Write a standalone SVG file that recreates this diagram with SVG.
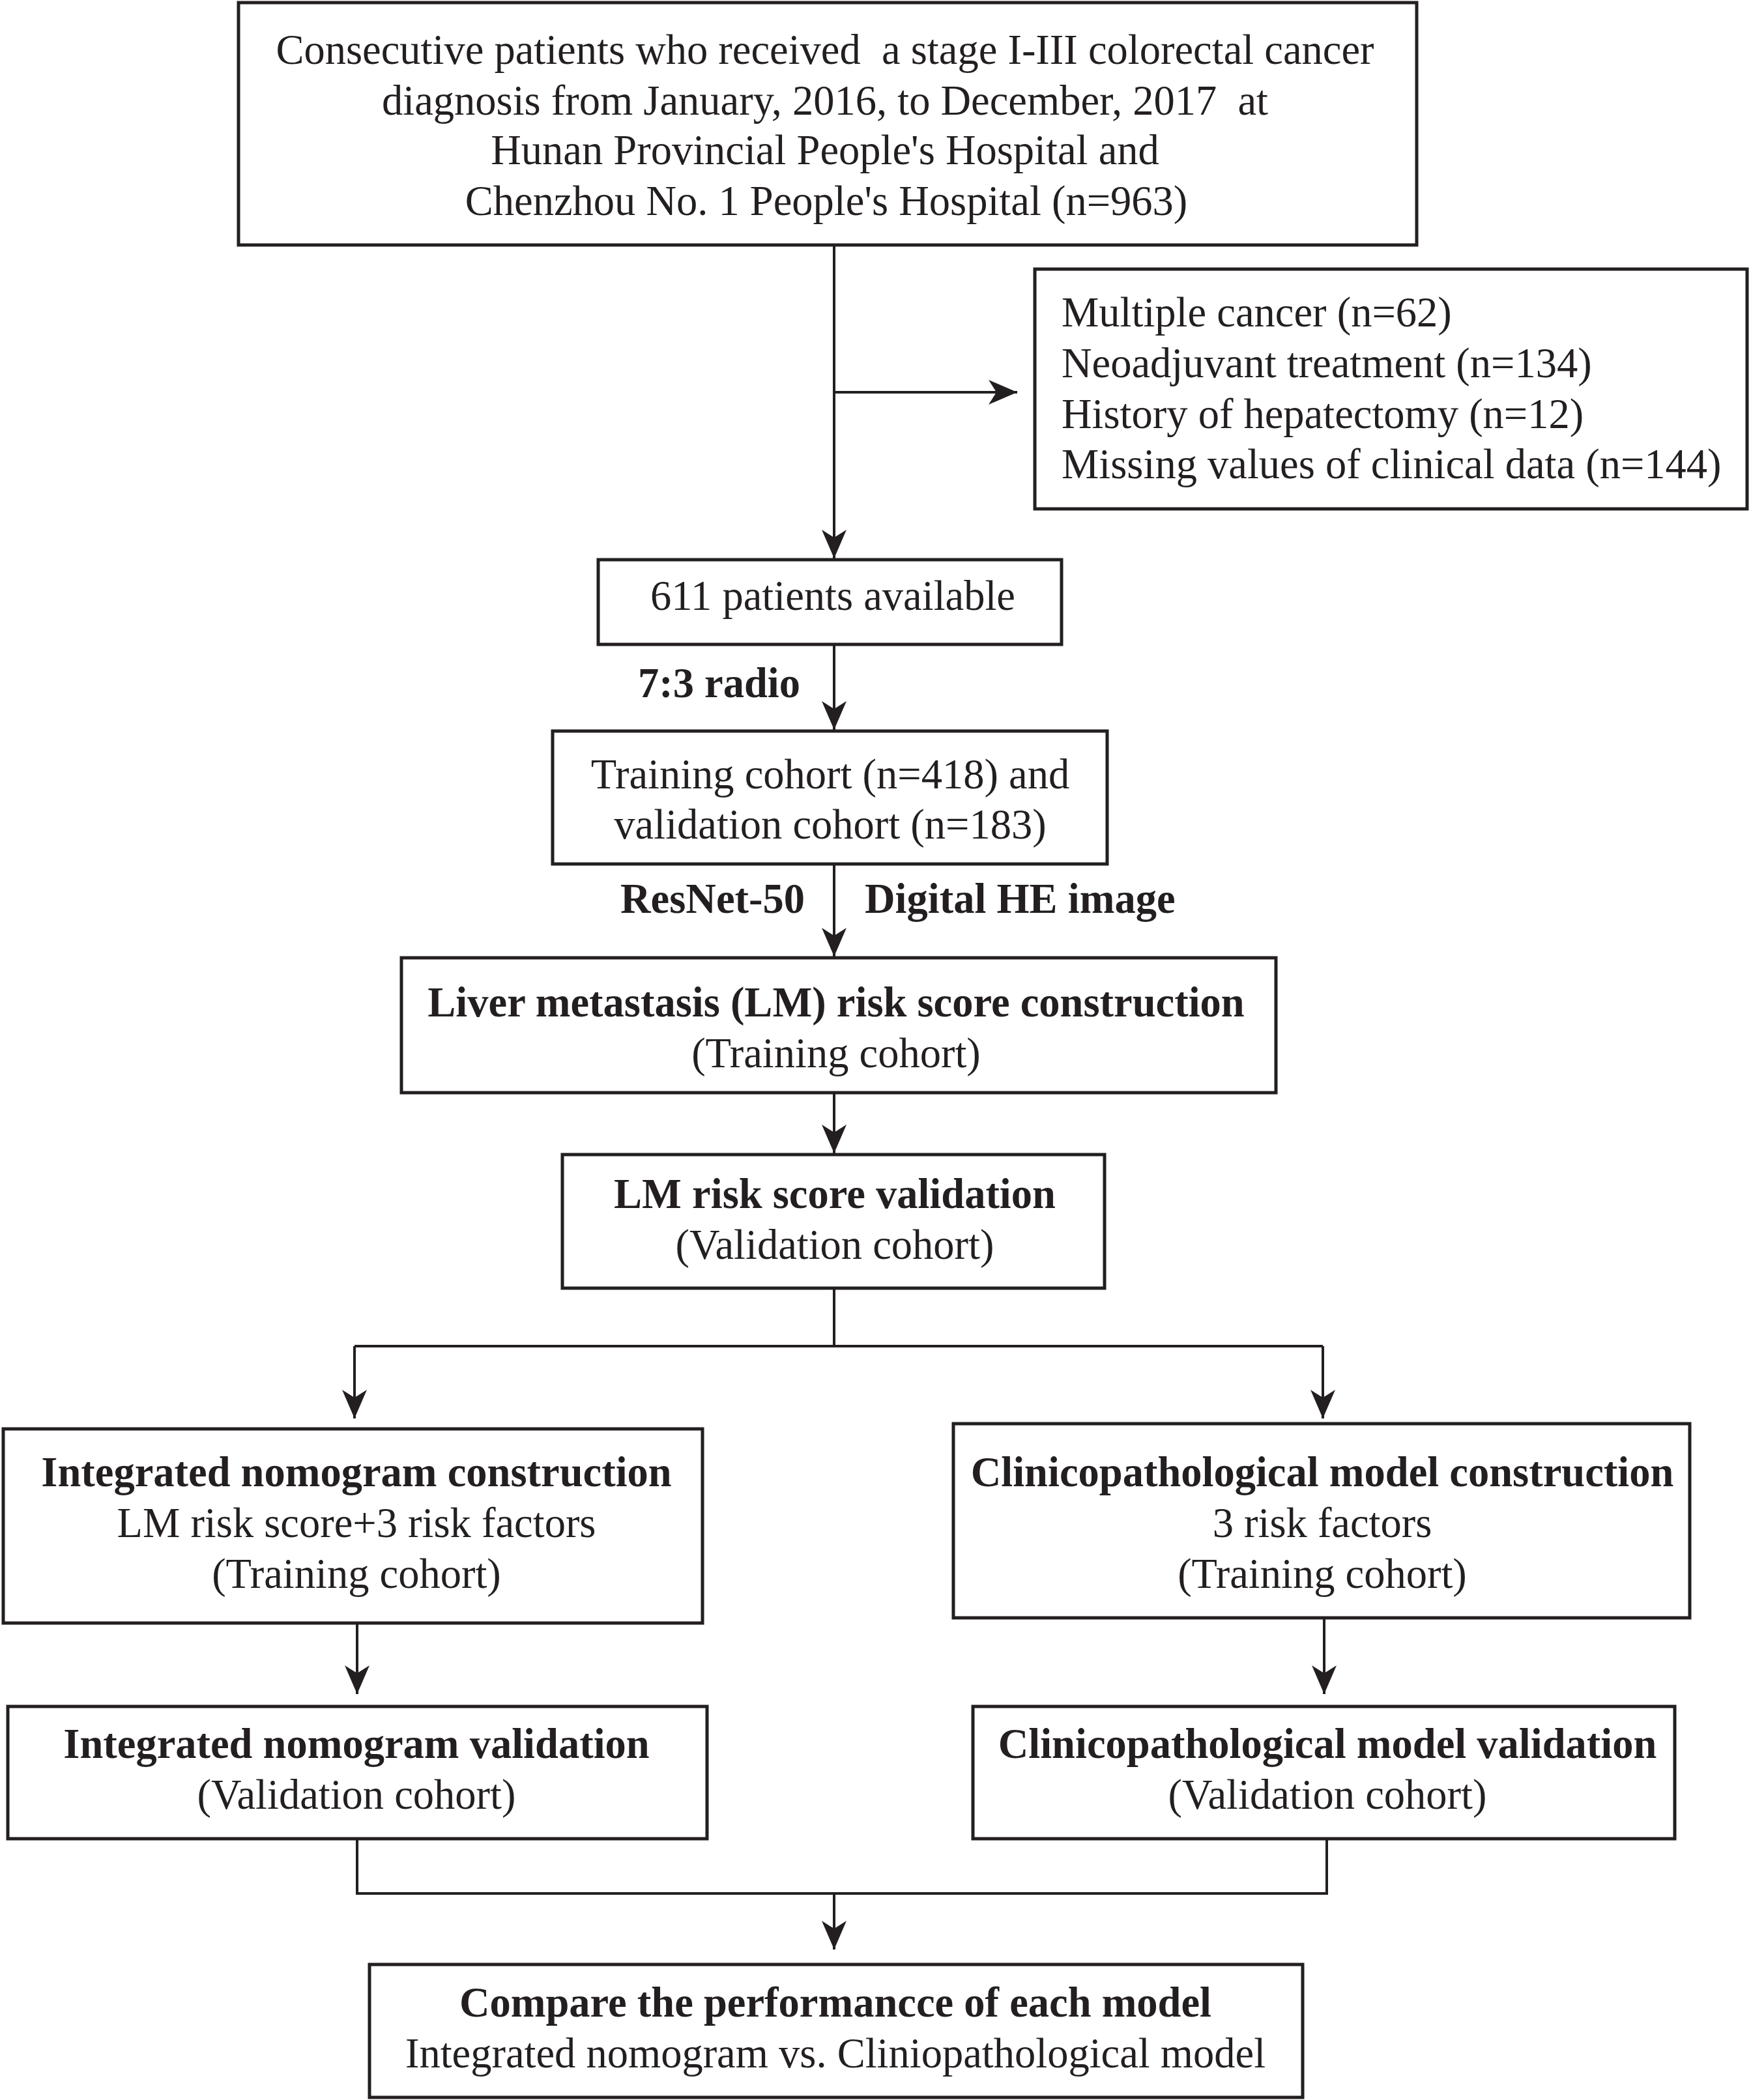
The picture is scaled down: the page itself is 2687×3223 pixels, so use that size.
<svg xmlns="http://www.w3.org/2000/svg" width="2687" height="3223" viewBox="0 0 2687 3223">
<style>
.box{fill:#fff;stroke:#231f20;stroke-width:5}
.t{font-family:"Liberation Serif","Times New Roman",serif;font-size:64.5px;fill:#231f20;text-anchor:middle}
.b{font-weight:bold}
.l{text-anchor:start}
.e{text-anchor:end}
.c{fill:none;stroke:#231f20;stroke-width:4}
</style>
<defs>
<marker id="arr" markerUnits="userSpaceOnUse" viewBox="0 -20 46 40" markerWidth="46" markerHeight="40" refX="44" refY="0" orient="auto">
<path d="M0,-19 L44,0 L0,19 L12,0 Z" fill="#231f20"/>
</marker>
</defs>
<rect width="2687" height="3223" fill="#fff"/>
<g id="connectors">
<line class="c" x1="1280" y1="376" x2="1280" y2="857" marker-end="url(#arr)"/>
<line class="c" x1="1280" y1="602" x2="1561" y2="602" marker-end="url(#arr)"/>
<line class="c" x1="1280" y1="989" x2="1280" y2="1120" marker-end="url(#arr)"/>
<line class="c" x1="1280" y1="1326" x2="1280" y2="1468" marker-end="url(#arr)"/>
<line class="c" x1="1280" y1="1677" x2="1280" y2="1770" marker-end="url(#arr)"/>
<polyline class="c" points="1280,1977 1280,2066"/>
<polyline class="c" points="544,2066 2030,2066"/>
<line class="c" x1="544" y1="2066" x2="544" y2="2177" marker-end="url(#arr)"/>
<line class="c" x1="2030" y1="2066" x2="2030" y2="2177" marker-end="url(#arr)"/>
<line class="c" x1="548" y1="2491" x2="548" y2="2600" marker-end="url(#arr)"/>
<line class="c" x1="2032" y1="2483" x2="2032" y2="2600" marker-end="url(#arr)"/>
<polyline class="c" points="548,2822 548,2906 2036,2906 2036,2822"/>
<line class="c" x1="1280" y1="2906" x2="1280" y2="2992" marker-end="url(#arr)"/>
<text class="t b e" x="1228" y="1070">7:3 radio</text>
<text class="t b e" x="1235" y="1401">ResNet-50</text>
<text class="t b l" x="1327" y="1401">Digital HE image</text>
</g>
<g id="n_start">
<rect class="box" x="366" y="4" width="1808" height="372"/>
<text class="t" x="1266" y="98" xml:space="preserve">Consecutive patients who received  a stage I-III colorectal cancer</text>
<text class="t" x="1266" y="176" xml:space="preserve">diagnosis from January, 2016, to December, 2017  at</text>
<text class="t" x="1266" y="252">Hunan Provincial People's Hospital and</text>
<text class="t" x="1268" y="330">Chenzhou No. 1 People's Hospital (n=963)</text>
</g>
<g id="n_excl">
<rect class="box" x="1588" y="413" width="1093" height="368"/>
<text class="t l" x="1629" y="501">Multiple cancer (n=62)</text>
<text class="t l" x="1629" y="579">Neoadjuvant treatment (n=134)</text>
<text class="t l" x="1629" y="657">History of hepatectomy (n=12)</text>
<text class="t l" x="1629" y="734">Missing values of clinical data (n=144)</text>
</g>
<g id="n_avail">
<rect class="box" x="918" y="859" width="711" height="130"/>
<text class="t" x="1278" y="936">611 patients available</text>
</g>
<g id="n_train">
<rect class="box" x="848" y="1122" width="851" height="204"/>
<text class="t" x="1274" y="1210">Training cohort (n=418) and</text>
<text class="t" x="1274" y="1287">validation cohort (n=183)</text>
</g>
<g id="n_lmc">
<rect class="box" x="616" y="1470" width="1342" height="207"/>
<text class="t b" x="1283" y="1560">Liver metastasis (LM) risk score construction</text>
<text class="t" x="1283" y="1638">(Training cohort)</text>
</g>
<g id="n_lmv">
<rect class="box" x="863" y="1772" width="832" height="205"/>
<text class="t b" x="1281" y="1854">LM risk score validation</text>
<text class="t" x="1281" y="1932">(Validation cohort)</text>
</g>
<g id="n_inc">
<rect class="box" x="5" y="2193" width="1073" height="298"/>
<text class="t b" x="547" y="2281">Integrated nomogram construction</text>
<text class="t" x="547" y="2359">LM risk score+3 risk factors</text>
<text class="t" x="547" y="2437">(Training cohort)</text>
</g>
<g id="n_clc">
<rect class="box" x="1463" y="2185" width="1130" height="298"/>
<text class="t b" x="2029" y="2281">Clinicopathological model construction</text>
<text class="t" x="2029" y="2359">3 risk factors</text>
<text class="t" x="2029" y="2437">(Training cohort)</text>
</g>
<g id="n_inv">
<rect class="box" x="12" y="2619" width="1073" height="203"/>
<text class="t b" x="547" y="2698">Integrated nomogram validation</text>
<text class="t" x="547" y="2776">(Validation cohort)</text>
</g>
<g id="n_clv">
<rect class="box" x="1493" y="2619" width="1077" height="203"/>
<text class="t b" x="2037" y="2698">Clinicopathological model validation</text>
<text class="t" x="2037" y="2776">(Validation cohort)</text>
</g>
<g id="n_cmp">
<rect class="box" x="567" y="3015" width="1432" height="204"/>
<text class="t b" x="1282" y="3095">Compare the performancce of each model</text>
<text class="t" x="1282" y="3173">Integrated nomogram vs. Cliniopathological model</text>
</g>
</svg>
